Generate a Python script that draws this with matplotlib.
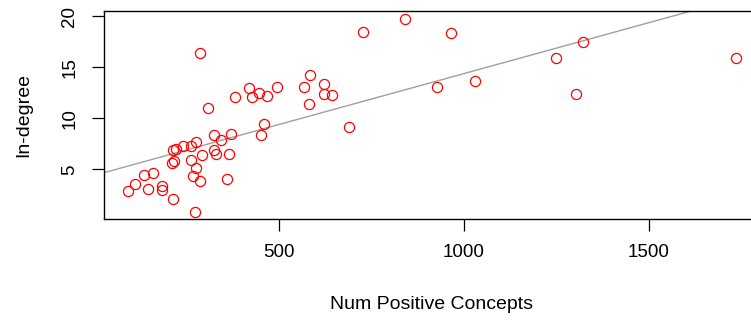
import matplotlib
matplotlib.use("Agg")
import matplotlib.pyplot as plt
import numpy as np

plt.rcParams['font.family'] = ['Liberation Sans', 'DejaVu Sans']

num_positive = [92.7, 110.8, 135.9, 158.6, 145.1, 183.0, 184.6, 212.7, 210.0, 215.4,
                214.3, 220.3, 241.4, 262.2, 274.9, 261.4, 291.9, 277.0, 266.8, 286.5,
                273.0, 324.3, 342.7, 371.1, 324.9, 328.4, 366.2, 358.6, 308.1, 381.9,
                419.5, 427.0, 445.9, 468.9, 493.8, 568.1, 584.3, 622.2, 620.5, 644.3,
                581.4, 459.5, 450.5, 688.1, 727.8, 840.5, 964.0, 927.0, 1030.5, 1248.6,
                1322.4, 1302.7, 1734.3, 286.5]
in_degree = [2.83, 3.56, 4.41, 4.61, 3.04, 3.34, 3.02, 2.09, 5.65, 5.83,
             6.84, 6.94, 7.28, 7.25, 7.72, 5.88, 6.40, 5.08, 4.37, 3.88,
             0.85, 8.39, 7.87, 8.50, 6.86, 6.50, 6.45, 4.02, 10.97, 12.12,
             13.00, 12.10, 12.42, 12.17, 13.10, 13.10, 14.25, 13.33, 12.33, 12.23,
             11.38, 9.46, 8.36, 9.17, 18.40, 19.71, 18.31, 13.02, 13.64, 15.89,
             17.46, 12.34, 15.89, 16.38]

# regression line
fit_intercept = 4.40
fit_slope = 0.00997

x_ticks = [500, 1000, 1500]
y_ticks = [5, 10, 15, 20]

x = np.array(num_positive)
y = np.array(in_degree)

fig = plt.figure(figsize=(7.51, 3.22), dpi=100)
ax = fig.add_axes([104/751, (322-219.4)/322, (760-104)/751, (219.4-11.3)/322])

ax.plot(x, y, linestyle='none', marker='o', markersize=7.3, markerfacecolor='none',
        markeredgecolor='#ff0000', markeredgewidth=0.9, zorder=3)

xl = np.array([-100, 2000])
ax.plot(xl, fit_intercept + fit_slope*xl, color='#a0a0a0', lw=1.0, zorder=2)

xr = x.max() - x.min()
yr = y.max() - y.min()
ax.set_xlim(x.min() - 0.04*xr, x.max() + 0.04*xr)
ax.set_ylim(y.min() - 0.04*yr, y.max() + 0.04*yr)

ax.set_xticks(x_ticks)
ax.set_yticks(y_ticks)
ax.set_xticklabels([str(t) for t in x_ticks])
ax.set_yticklabels([str(t) for t in y_ticks], rotation=90, va='center')
ax.tick_params(axis='both', direction='out', length=8.6, width=0.9, labelsize=13.5,
               color='black')
ax.tick_params(axis='x', pad=9)
ax.tick_params(axis='y', pad=10)
for s in ax.spines.values():
    s.set_linewidth(1.0)
    s.set_color('black')

ax.set_xlabel('Num Positive Concepts', fontsize=14, labelpad=25)
ax.set_ylabel('In-degree', fontsize=14, labelpad=21)

fig.savefig('out.png', dpi=100)
